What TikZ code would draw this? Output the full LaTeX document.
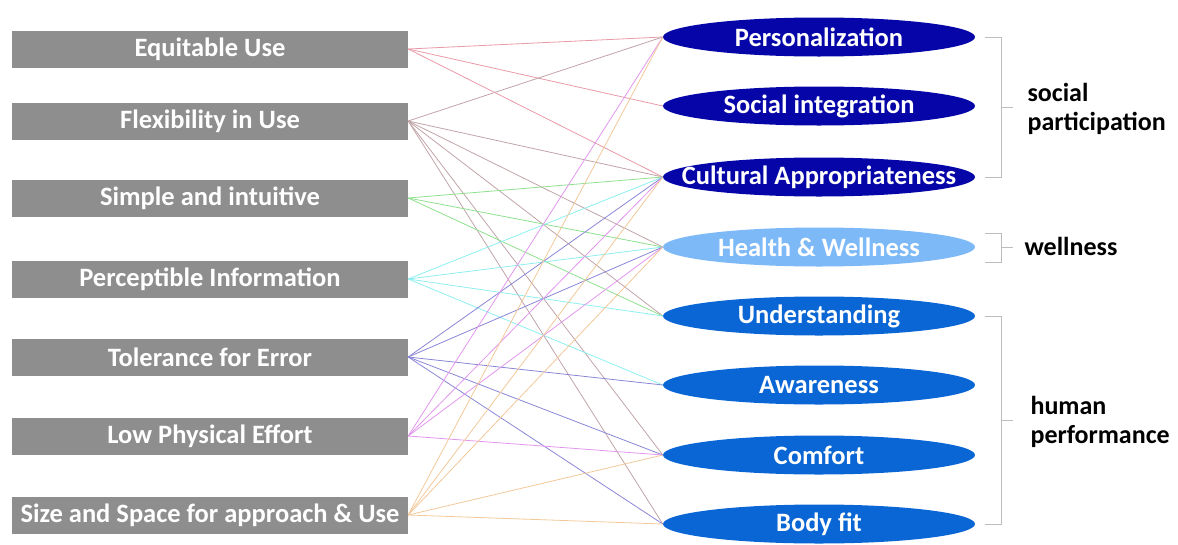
\documentclass[tikz,border=0pt]{standalone}
\usepackage{fontspec}
\setmainfont{Carlito}
\usetikzlibrary{shapes.geometric}
\definecolor{boxgray}{HTML}{8E8E8E}
\definecolor{dblue}{HTML}{0606A8}
\definecolor{lblue}{HTML}{7DB9F7}
\definecolor{mblue}{HTML}{0A66D4}
\definecolor{cRed}{HTML}{E89AA8}
\definecolor{cBrown}{HTML}{C2A4A8}
\definecolor{cGreen}{HTML}{8EE08E}
\definecolor{cCyan}{HTML}{8EEEF0}
\definecolor{cBlue}{HTML}{8A86D6}
\definecolor{cMag}{HTML}{E296EE}
\definecolor{cOrange}{HTML}{F2C89A}
\definecolor{brk}{HTML}{BDBDBD}
\newcommand{\zw}[1]{\makebox[0pt][c]{#1}}
\begin{document}
\begin{tikzpicture}[x=1pt,y=-1pt,
  prin/.style={rectangle,fill=boxgray,minimum width=396pt,minimum height=37pt,inner sep=0pt,text=white,font=\fontsize{26.5}{30}\selectfont\bfseries},
  goal/.style={ellipse,minimum width=312pt,minimum height=39pt,inner sep=0pt,text=white,font=\fontsize{26.5}{30}\selectfont\bfseries},
  grp/.style={anchor=west,align=left,text=black,font=\fontsize{26}{28.5}\selectfont\bfseries},
  link/.style={line width=0.8pt},
  bracket/.style={draw=brk,line width=0.8pt}]
\useasboundingbox (0,0) rectangle (1178,544);
% left boxes
\node[prin] (p1) at (210,49) {Equitable Use};
\node[prin] (p2) at (210,121) {Flexibility in Use};
\node[prin] (p3) at (210,198) {Simple and intuitive};
\node[prin] (p4) at (210,279) {Perceptible Information};
\node[prin] (p5) at (210,357) {Tolerance for Error};
\node[prin] (p6) at (210,436) {Low Physical Effort};
\node[prin] (p7) at (210,515) {\zw{Size and Space for approach \& Use}};
% right ellipses
\node[goal,fill=dblue] (g1) at (819,37) {\zw{Personalization}};
\node[goal,fill=dblue] (g2) at (819,106) {\zw{Social integration}};
\node[goal,fill=dblue] (g3) at (819,177) {\zw{Cultural Appropriateness}};
\node[goal,fill=lblue] (g4) at (819,247) {\zw{Health \& Wellness}};
\node[goal,fill=mblue] (g5) at (819,316) {\zw{Understanding}};
\node[goal,fill=mblue] (g6) at (819,385) {\zw{Awareness}};
\node[goal,fill=mblue] (g7) at (819,455) {\zw{Comfort}};
\node[goal,fill=mblue] (g8) at (819,524) {\zw{Body fit}};
% connectors
\foreach \g in {1,2,3} \draw[link,cRed] (p1.east) -- (g\g.west);
\foreach \g in {1,3,4,5,7,8} \draw[link,cBrown] (p2.east) -- (g\g.west);
\foreach \g in {3,4,5} \draw[link,cGreen] (p3.east) -- (g\g.west);
\foreach \g in {3,4,5,6} \draw[link,cCyan] (p4.east) -- (g\g.west);
\foreach \g in {3,4,6,7,8} \draw[link,cBlue] (p5.east) -- (g\g.west);
\foreach \g in {1,3,4,7} \draw[link,cMag] (p6.east) -- (g\g.west);
\foreach \g in {1,3,4,7,8} \draw[link,cOrange] (p7.east) -- (g\g.west);
% brackets
\coordinate (b1t) at (985,37); \coordinate (b1b) at (985,177);
\draw[bracket] (b1t) -- ++(16,0) |- (b1b);
\draw[bracket] (1001,107) -- ++(12,0);
\coordinate (b2t) at (985,233); \coordinate (b2b) at (985,262);
\draw[bracket] (b2t) -- ++(16,0) |- (b2b);
\draw[bracket] (1001,247) -- ++(12,0);
\coordinate (b3t) at (985,316); \coordinate (b3b) at (985,524);
\draw[bracket] (b3t) -- ++(16,0) |- (b3b);
\draw[bracket] (1001,420) -- ++(12,0);
% group labels
\node[grp] (l1) at (1024,109) {social\\participation};
\node[grp] (l2) at (1021,246) {wellness};
\node[grp] (l3) at (1027,422) {human\\performance};
\end{tikzpicture}
\end{document}
